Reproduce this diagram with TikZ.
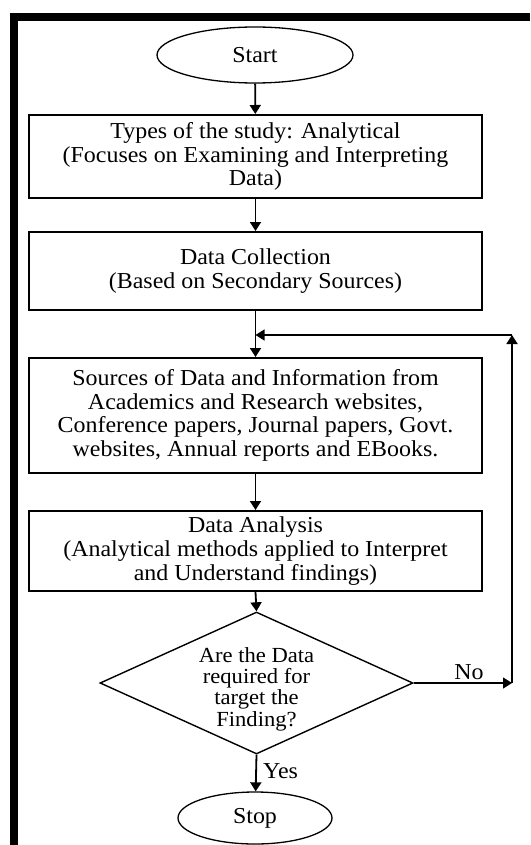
\documentclass[tikz,border=0pt]{standalone}
\usepackage{fontspec}
\setmainfont{Liberation Serif}[FakeStretch=1.05]
\usetikzlibrary{shapes.geometric,arrows.meta}
\begin{document}
\begin{tikzpicture}[x=1pt,y=-1pt,
  every node/.style={font=\fontsize{22.8}{23.6}\selectfont},
  boxnode/.style={draw,line width=2pt,rectangle,minimum width=453pt,inner sep=0pt,align=center},
  ovalnode/.style={draw,line width=1.3pt,ellipse,inner sep=0pt},
  arr/.style={line width=1.8pt,-{Triangle[length=9pt,width=11pt]}},
  thinarr/.style={line width=1.2pt,-{Triangle[length=9pt,width=11pt]}}]
\useasboundingbox (0,0) rectangle (530,845);
\draw[line width=7.5pt] (13.8,845) -- (13.8,17) -- (530,17);

\node[ovalnode,minimum width=196pt,minimum height=56pt] (start) at (255,55) {Start};
\node[boxnode,minimum height=83pt] (b1) at (255.5,156.5)
  {Types of the study: Analytical\\(Focuses on Examining and Interpreting\\Data)};
\node[boxnode,minimum height=78pt] (b2) at (255.5,271)
  {Data Collection\\(Based on Secondary Sources)};
\node[boxnode,minimum height=115pt] (b3) at (255.5,415.5)
  {Sources of Data and Information from\\Academics and Research websites,\\Conference papers, Journal papers, Govt.\\websites, Annual reports and EBooks.};
\node[boxnode,minimum height=80pt] (b4) at (255.5,551)
  {Data Analysis\\(Analytical methods applied to Interpret\\and Understand findings)};
\node[draw,diamond,line width=1.4pt,minimum width=313pt,minimum height=142pt,inner sep=0pt,aspect=2.2] (dia) at (256.5,683) {};
\node[align=center,inner sep=0pt,font=\fontsize{21.5}{21.3}\selectfont] (diatext) at (256.5,689)
  {Are the Data\\required for\\target the\\Finding?};
\node[ovalnode,minimum width=154pt,minimum height=52pt] (stop) at (255,818) {Stop};

\coordinate (c1) at (512,683);
\coordinate (c2) at (512,335);
\coordinate (c3) at (255.5,335);

\draw[arr] (start) -- (b1);
\draw[arr] (b1) -- (b2);
\draw[arr] (b2) -- (b3);
\draw[arr] (b3) -- (b4);
\draw[arr] (b4.south) -- (dia.north);
\draw[thinarr] (dia.east) -- (c1);
\draw[arr] (c1) -- (c2);
\draw[thinarr] (c2) -- (c3);
\draw[arr] (dia.south) -- (stop);
\node[anchor=south,inner sep=0pt] (nolab) at (469,680) {No};
\node[anchor=west,inner sep=0pt] (yeslab) at (263,771) {Yes};
\end{tikzpicture}
\end{document}
